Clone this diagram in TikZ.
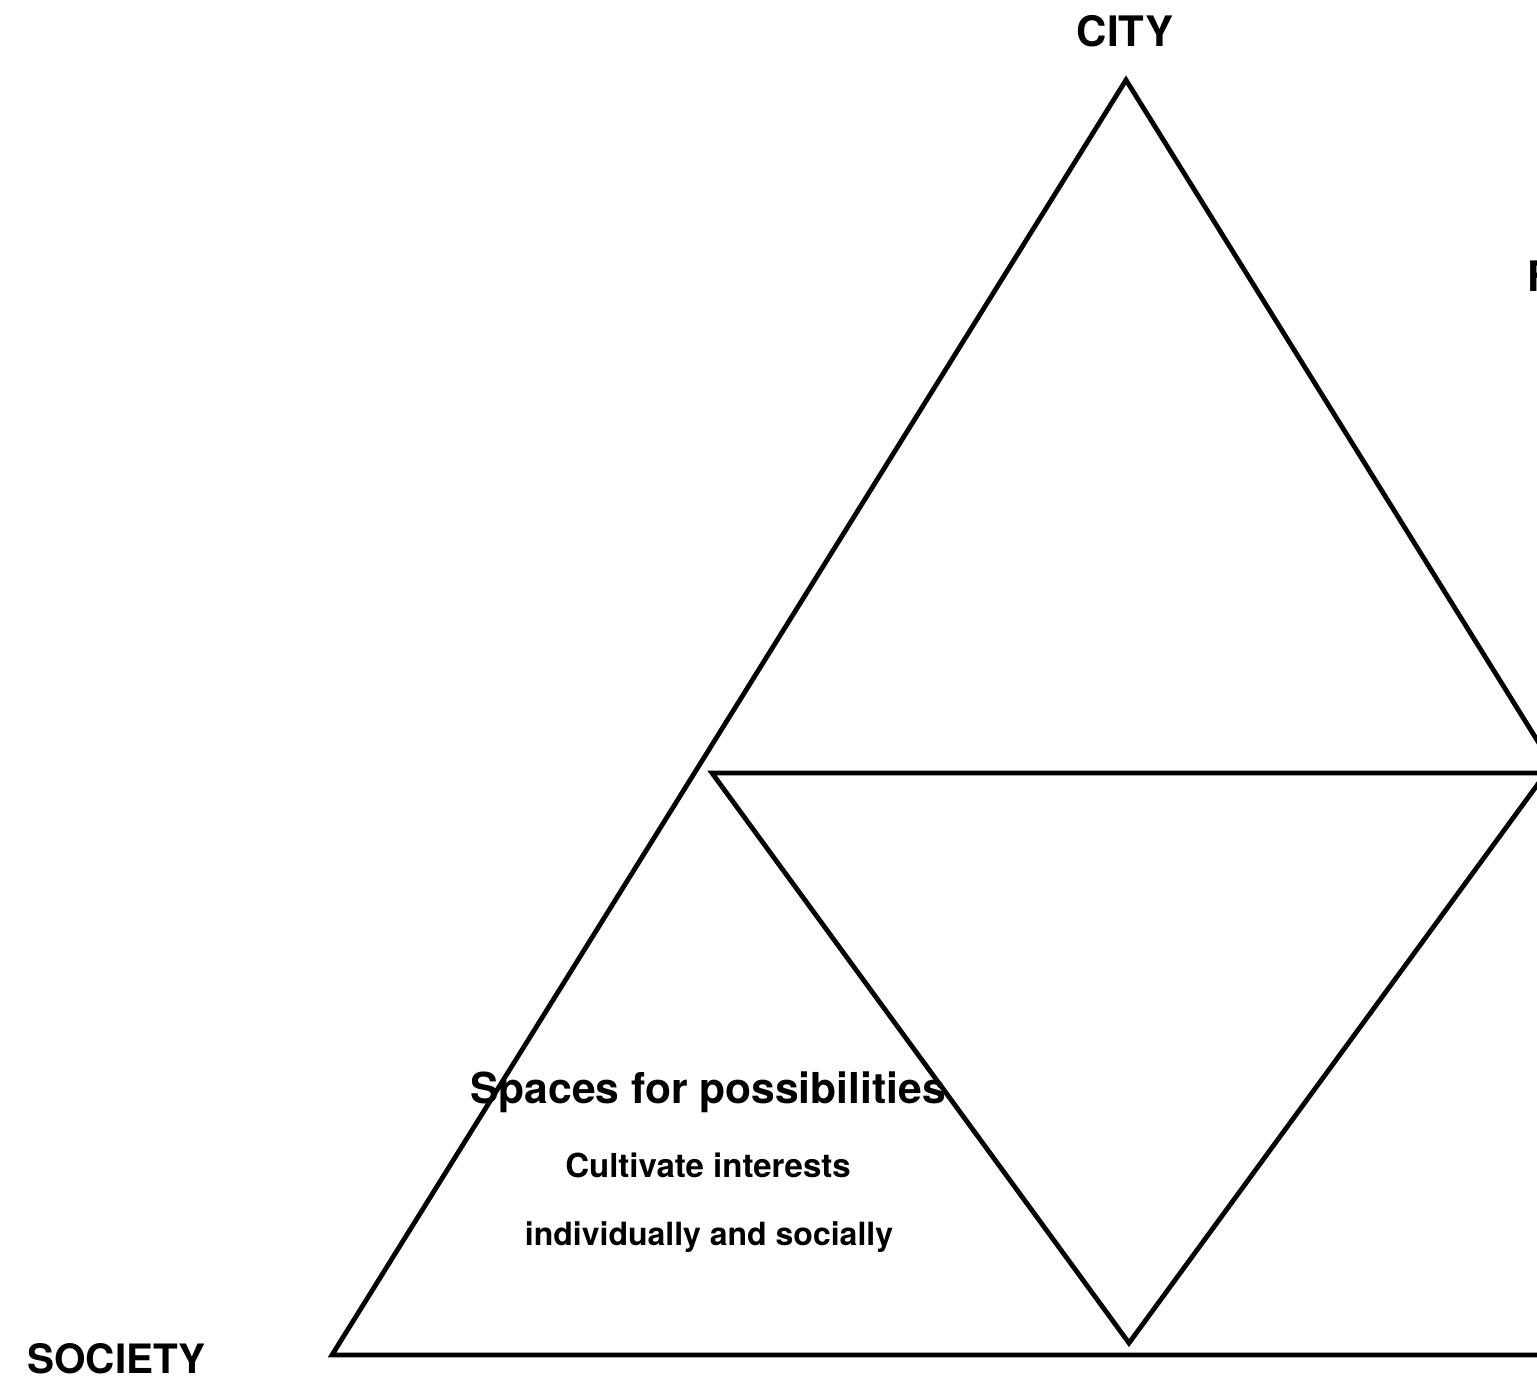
\documentclass[tikz,border=0pt]{standalone}
\usepackage{fontspec}
\setmainfont{TeX Gyre Heros}
\usetikzlibrary{positioning}

\begin{document}
\begin{tikzpicture}[x=1pt, y=-1pt, line width=4.8pt, line join=miter]
    % Styles
    \tikzstyle{corner}=[font=\fontsize{42}{50}\selectfont\bfseries, inner sep=0pt]
    \tikzstyle{heading}=[font=\fontsize{42.6}{50}\selectfont\bfseries, inner sep=0pt]
    \tikzstyle{detail}=[font=\fontsize{33}{40}\selectfont\bfseries, inner sep=0pt]

    \useasboundingbox (0,0) rectangle (1537,1380);

    % Outer triangle
    \coordinate (top) at (1126,80);
    \coordinate (left) at (332,1355);
    \coordinate (right) at (1920,1355);
    \draw (top) -- (left) -- (right) -- cycle;

    % Inner triangle (upside down)
    \coordinate (inleft) at (712,773);
    \coordinate (inright) at (1546,773);
    \coordinate (inbottom) at (1129,1343);
    \draw (inleft) -- (inright) -- (inbottom) -- cycle;

    % Corner labels
    \node (city) [corner, anchor=base] at (1125,47) {CITY};
    \node (society) [corner, font=\fontsize{40.5}{48}\selectfont\bfseries, anchor=base west] at (25,1373) {SOCIETY};
    \node (cut) [corner, anchor=base west] at (1525,292) {F};

    % Text in the lower left triangle
    \node (spaces) [heading, anchor=base] at (708,1103) {Spaces for possibilities};
    \node (cultivate) [detail, anchor=base] at (708,1177) {Cultivate interests};
    \node (social) [detail, font=\fontsize{32}{40}\selectfont\bfseries, anchor=base] at (709,1245) {individually and socially};

\end{tikzpicture}
\end{document}
